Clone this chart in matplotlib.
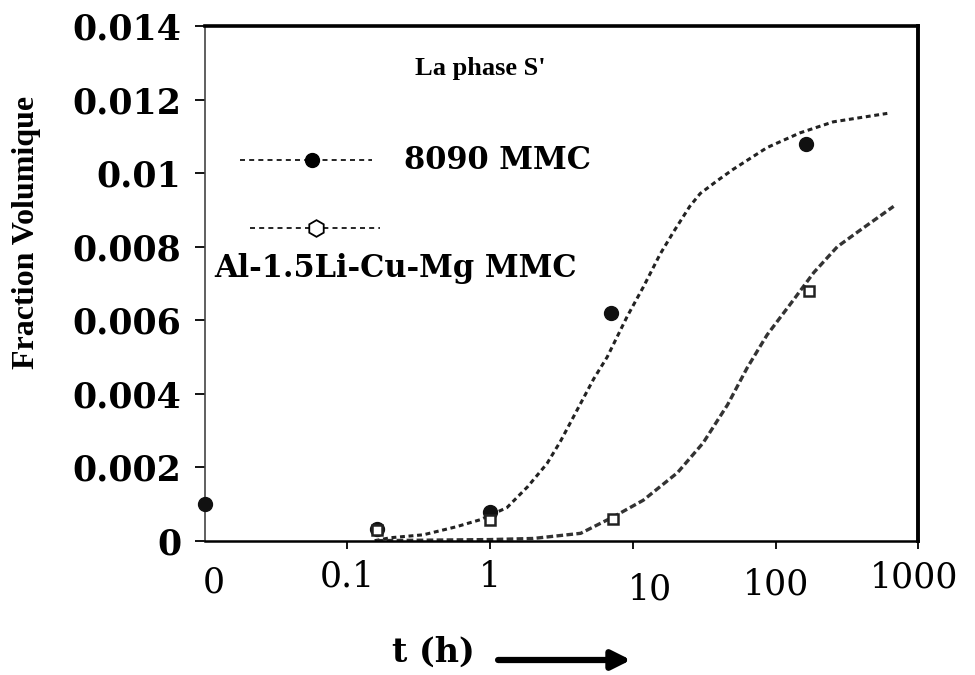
import matplotlib

matplotlib.use("Agg")

import matplotlib.pyplot as plt
import matplotlib.transforms as mtransforms
import numpy as np

# -----------------------------------------
# Data
# -----------------------------------------

XMIN = 0.01
XMAX = 1000

t_8090 = [0, 0.16, 1.0, 7.0, 163]
f_8090 = [0.0010, 0.00033, 0.00078, 0.0062, 0.0108]

t_al = [0.16, 1.0, 7.2, 170]
f_al = [0.0003, 0.00055, 0.0006, 0.0068]

# fitted curves
fit_t_8090 = [0.155, 0.2, 0.34, 0.58, 0.85, 1.31, 1.83, 2.5, 3.1, 5.3,
              6.6, 9.1, 11.8, 15.5, 19.2, 25, 29.6, 39, 50, 87, 148, 253,
              605]
fit_f_8090 = [0.0, 0.00008, 0.00016, 0.00038, 0.00057, 0.0009, 0.00147,
              0.0021, 0.0027, 0.0044, 0.0050, 0.0061, 0.0069, 0.0078,
              0.0084, 0.0091, 0.00945, 0.0098, 0.0101, 0.0107, 0.0111,
              0.0114, 0.01163]

fit_t_al = [0.16, 0.5, 1.0, 2.0, 4.3, 7.3, 11.8, 20.5, 31, 46, 63, 87,
            133, 185, 270, 390, 670]
fit_f_al = [0.0, 0.00002, 0.00003, 0.00006, 0.0002, 0.00065, 0.0011,
            0.00185, 0.00266, 0.0037, 0.0047, 0.0056, 0.00655, 0.0073,
            0.0080, 0.00845, 0.0091]

x_ticks = [0.01, 0.1, 1, 10, 100, 1000]
x_tick_labels = ["0", "0.1", "1", "10", "100", "1000"]

y_ticks = [0, 0.002, 0.004, 0.006, 0.008, 0.01, 0.012, 0.014]
y_tick_labels = ["0", "0.002", "0.004", "0.006", "0.008", "0.01",
                 "0.012", "0.014"]

# -----------------------------------------
# Figure
# -----------------------------------------

fig = plt.figure(figsize=(9.75, 6.75), dpi=100)

ax = fig.add_axes([0.210, 0.199, 0.732, 0.762])

ax.set_xscale("log")
ax.set_xlim(XMIN, XMAX)
ax.set_ylim(0, 0.014)

# zero time is shown at the left edge of the log axis
t_8090_plot = np.where(np.array(t_8090) == 0, XMIN, t_8090)

ax.plot(
    fit_t_8090,
    fit_f_8090,
    color="#222222",
    linewidth=2.2,
    linestyle=(0, (1.6, 1.2)),
)

ax.plot(
    fit_t_al,
    fit_f_al,
    color="#333333",
    linewidth=2.4,
    linestyle=(0, (2.0, 1.0)),
)

ax.plot(
    t_8090_plot,
    f_8090,
    linestyle="none",
    marker="o",
    markersize=10,
    color="#111111",
    clip_on=False,
    zorder=5,
)

ax.plot(
    t_al,
    f_al,
    linestyle="none",
    marker="s",
    markersize=7,
    markerfacecolor="white",
    markeredgecolor="#222222",
    markeredgewidth=1.8,
    zorder=6,
)

# -----------------------------------------
# Axes styling
# -----------------------------------------

ax.spines["top"].set_linewidth(2.6)
ax.spines["right"].set_linewidth(2.8)
ax.spines["bottom"].set_linewidth(1.8)
ax.spines["left"].set_linewidth(1.2)
ax.spines["left"].set_color("#444444")

ax.set_yticks(y_ticks)
ax.set_yticklabels(
    y_tick_labels,
    fontfamily="DejaVu Serif",
    fontweight="bold",
    fontsize=25,
)
ax.tick_params(axis="y", direction="out", length=7, width=1.3, pad=10)

ax.xaxis.set_minor_locator(matplotlib.ticker.NullLocator())
ax.set_xticks(x_ticks[1:])
ax.set_xticklabels([])
ax.tick_params(axis="x", direction="out", length=6, width=1.3)

# staggered x tick labels, as in the original scan
label_dy = [-0.082, -0.070, -0.070, -0.095, -0.085, -0.072]
label_dx = [0.06, 0.0, 0.0, 0.12, 0.0, -0.03]

trans = mtransforms.blended_transform_factory(ax.transData, ax.transAxes)

for xt, lab, dy, dx in zip(x_ticks, x_tick_labels, label_dy, label_dx):
    ax.text(
        xt * 10 ** dx,
        dy,
        lab,
        transform=trans,
        ha="center",
        va="center",
        fontfamily="DejaVu Serif",
        fontsize=25,
        clip_on=False,
    )

fig.text(
    0.027,
    1 - 232 / 675,
    "Fraction Volumique",
    rotation=90,
    ha="center",
    va="center",
    fontfamily="Liberation Serif",
    fontweight="bold",
    fontsize=23,
)

fig.text(
    0.445,
    1 - 652 / 675,
    "t (h)",
    ha="center",
    va="center",
    fontfamily="DejaVu Serif",
    fontweight="bold",
    fontsize=24,
)

fig.patches.append(
    matplotlib.patches.FancyArrowPatch(
        (0.508, 1 - 660 / 675),
        (0.650, 1 - 660 / 675),
        transform=fig.transFigure,
        arrowstyle="-|>",
        mutation_scale=28,
        linewidth=4.5,
        color="black",
    )
)

# -----------------------------------------
# Legend (hand drawn, as in the original)
# -----------------------------------------

ax.text(
    0.386,
    0.918,
    "La phase S'",
    transform=ax.transAxes,
    ha="center",
    va="center",
    fontfamily="Liberation Serif",
    fontweight="bold",
    fontsize=19,
)

ax.plot(
    [0.049, 0.234],
    [0.740, 0.740],
    transform=ax.transAxes,
    color="black",
    linewidth=1.2,
    linestyle=(0, (3, 2.5)),
)
ax.plot(
    [0.150],
    [0.740],
    transform=ax.transAxes,
    marker="o",
    markersize=10,
    color="black",
)
ax.text(
    0.279,
    0.740,
    "8090 MMC",
    transform=ax.transAxes,
    ha="left",
    va="center",
    fontfamily="DejaVu Serif",
    fontweight="bold",
    fontsize=22,
)

ax.plot(
    [0.063, 0.245],
    [0.608, 0.608],
    transform=ax.transAxes,
    color="black",
    linewidth=1.2,
    linestyle=(0, (3, 2.5)),
)
ax.plot(
    [0.156],
    [0.608],
    transform=ax.transAxes,
    marker="h",
    markersize=12,
    markerfacecolor="white",
    markeredgecolor="black",
    markeredgewidth=1.3,
)
ax.text(
    0.014,
    0.530,
    "Al-1.5Li-Cu-Mg MMC",
    transform=ax.transAxes,
    ha="left",
    va="center",
    fontfamily="DejaVu Serif",
    fontweight="bold",
    fontsize=22,
)

fig.savefig("out.png", dpi=100)

plt.close(fig)
